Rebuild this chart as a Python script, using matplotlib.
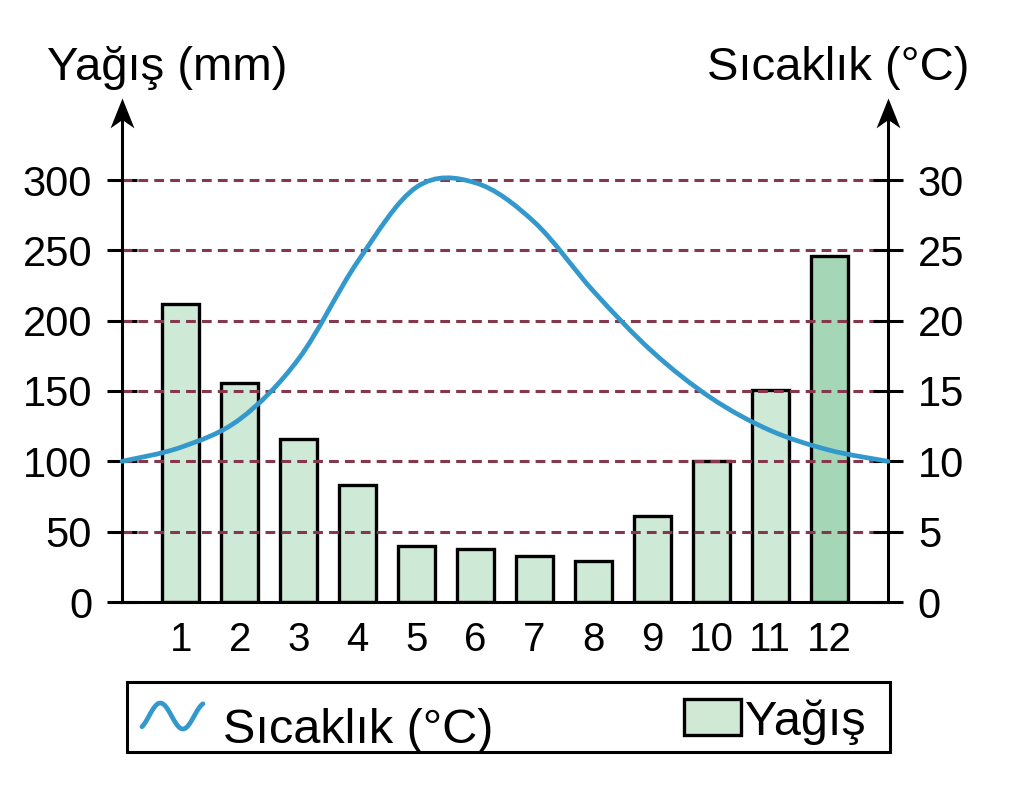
import numpy as np
import matplotlib
matplotlib.use("Agg")
from matplotlib import pyplot as plt
from matplotlib.path import Path
from matplotlib.patches import PathPatch, Rectangle

plt.rcParams['font.family'] = ['Liberation Sans', 'DejaVu Sans']

# data
months = [1, 2, 3, 4, 5, 6, 7, 8, 9, 10, 11, 12]
month_labels = ['1', '2', '3', '4', '5', '6', '7', '8', '9', '10', '11', '12']
precip = [212, 156, 116, 83, 40, 38, 33, 29, 61, 100, 151, 246]
bar_colors = ['#cfe9d7'] * 11 + ['#a5d7b7']

# temperature curve, from the left axis (0) to the right axis (13)
temp_x = [0, 1, 2, 3, 4, 5, 6, 7, 8, 9, 10, 11, 12, 13]
temp_y = [10.0, 11.0, 13.0, 17.3, 24.2, 29.5, 29.8, 27.0, 22.1, 17.8, 14.5, 12.2, 10.8, 10.0]

precip_ticks = [0, 50, 100, 150, 200, 250, 300]
temp_ticks = [0, 5, 10, 15, 20, 25, 30]

grid_color = '#85384c'
curve_color = '#3399cc'


def smooth_path(xs, ys):
    # Catmull-Rom through the points, written as cubic Bezier segments
    pts = np.column_stack([xs, ys]).astype(float)
    ext = np.vstack([pts[0], pts, pts[-1]])
    verts = [pts[0]]
    codes = [Path.MOVETO]
    for i in range(1, len(ext) - 2):
        p0, p1, p2, p3 = ext[i - 1], ext[i], ext[i + 1], ext[i + 2]
        verts += [p1 + (p2 - p0) / 6, p2 - (p3 - p1) / 6, p2]
        codes += [Path.CURVE4] * 3
    return Path(verts, codes)


# notched arrow head, tip at the origin
arrow_head = Path([(0, 0), (-0.4, -1), (0, -0.72), (0.4, -1), (0, 0)],
                  [Path.MOVETO, Path.LINETO, Path.LINETO, Path.LINETO, Path.CLOSEPOLY])

fig = plt.figure(figsize=(10.24, 7.99), dpi=100)
ax = fig.add_axes([122 / 1024, 197 / 799, 766 / 1024, 422 / 799])
ax.set_xlim(0, 13)
ax.set_ylim(0, 300)

ax.bar(months, precip, width=0.63, color=bar_colors, edgecolor='black',
       linewidth=2.4, zorder=2)
ax.hlines(precip_ticks[1:], 0, 13, colors=grid_color, linewidth=2.2,
          linestyles=(0, (3.2, 2.0)), zorder=3, clip_on=False)

for s in ['top', 'right', 'left']:
    ax.spines[s].set_visible(False)
ax.spines['bottom'].set_linewidth(2.2)
ax.spines['bottom'].set_zorder(4)

for xpos in [0, 13]:
    ax.plot([xpos, xpos], [0, 345], color='black', linewidth=2.2,
            clip_on=False, zorder=5)
    ax.plot([xpos], [358], marker=arrow_head, markersize=43, color='black',
            markeredgewidth=0, clip_on=False, zorder=5)

ax.set_xticks(months)
ax.set_xticklabels(month_labels)
ax.set_yticks(precip_ticks)
ax.tick_params(axis='x', length=0, pad=14, labelsize=29)
ax.tick_params(axis='y', direction='inout', length=21, width=2.2, pad=11,
               labelsize=30)

ax2 = ax.twinx()
ax2.set_ylim(0, 30)
for s in ax2.spines.values():
    s.set_visible(False)
ax2.set_yticks(temp_ticks)
ax2.tick_params(axis='y', direction='inout', length=21, width=2.2, pad=11,
                labelsize=30)
ax2.add_patch(PathPatch(smooth_path(temp_x, temp_y), fill=False,
                        edgecolor=curve_color, linewidth=3.4, clip_on=False,
                        zorder=4, capstyle='round'))

# axis titles and legend, placed in pixel coordinates
lay = fig.add_axes([0, 0, 1, 1], zorder=-1)
lay.set_xlim(0, 1024)
lay.set_ylim(799, 0)
lay.axis('off')
lay.text(167, 80, 'Yağış (mm)', fontsize=34, ha='center', va='baseline')
lay.text(838, 80, 'Sıcaklık (°C)', fontsize=34, ha='center', va='baseline')

lay.add_patch(Rectangle((127, 682), 763, 70, fill=False, edgecolor='black',
                        linewidth=2.2))
t = np.linspace(0, 1, 60)
lay.plot(142 + 61 * t, 716 - 13 * np.sin(np.pi / 2 + 2 * np.pi * 1.35 * (t - 0.3)),
         color=curve_color, linewidth=3.4, solid_capstyle='round')
lay.text(223, 743, 'Sıcaklık (°C)', fontsize=35, ha='left', va='baseline')
lay.add_patch(Rectangle((684, 699), 57, 36, facecolor='#cfe9d4',
                        edgecolor='black', linewidth=2.4))
lay.text(745, 735, 'Yağış', fontsize=35, ha='left', va='baseline')

fig.savefig('out.png', dpi=100)
